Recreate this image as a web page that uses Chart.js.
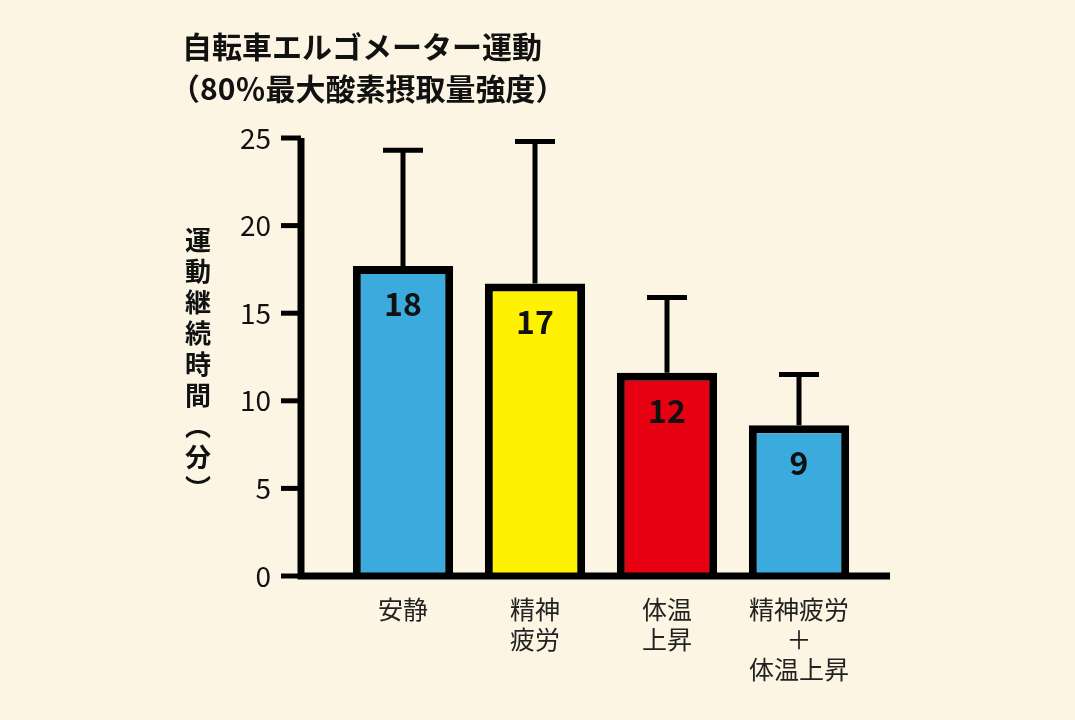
<!DOCTYPE html>
<html>
<head>
<meta charset="utf-8">
<script src="https://cdn.jsdelivr.net/npm/chart.js@4/dist/chart.umd.min.js"></script>
<style>
  html, body { margin: 0; padding: 0; background: #fdf5e4; }
  #wrap { width: 1075px; height: 720px; }
</style>
</head>
<body>
<div id="wrap"><canvas id="c"></canvas></div>
<script>
// データ
const categories = [['安静'], ['精神', '疲労'], ['体温', '上昇'], ['精神疲労', '＋', '体温上昇']];
const means = [17.7, 16.7, 11.6, 8.6];
const errorTops = [24.3, 24.8, 15.9, 11.5];
const valueLabels = ['18', '17', '12', '9'];
const barColors = ['#3aabdc', '#fff100', '#e60012', '#3aabdc'];
const yTicks = [0, 5, 10, 15, 20, 25];

const FONT = '"Noto Sans CJK JP", "Noto Sans", sans-serif';

// 軸・誤差棒・数値・タイトル
const decor = {
  id: 'decor',
  beforeDatasetsDraw(chart) {
    const ctx = chart.ctx, y = chart.scales.y, x = chart.scales.x;
    ctx.save();
    ctx.strokeStyle = '#000';
    errorTops.forEach((v, i) => {
      const cx = x.getPixelForValue(i);
      const top = y.getPixelForValue(v);
      ctx.lineWidth = 5;
      ctx.beginPath();
      ctx.moveTo(cx, y.getPixelForValue(means[i]));
      ctx.lineTo(cx, top);
      ctx.moveTo(cx - 20, top);
      ctx.lineTo(cx + 20, top);
      ctx.stroke();
    });
    ctx.restore();
  },
  afterDatasetsDraw(chart) {
    const ctx = chart.ctx, y = chart.scales.y, x = chart.scales.x;
    const y0 = y.getPixelForValue(0);
    ctx.save();
    ctx.strokeStyle = '#000';
    ctx.lineWidth = 7;
    ctx.beginPath();
    ctx.moveTo(301, y.getPixelForValue(25));
    ctx.lineTo(301, y0);
    ctx.lineTo(890, y0);
    ctx.stroke();
    ctx.lineWidth = 5;
    yTicks.forEach(t => {
      const py = y.getPixelForValue(t);
      ctx.beginPath();
      ctx.moveTo(281, py);
      ctx.lineTo(301, py);
      ctx.stroke();
    });
    ctx.fillStyle = '#111';
    ctx.font = '28px ' + FONT;
    ctx.textAlign = 'right';
    ctx.textBaseline = 'middle';
    yTicks.forEach(t => ctx.fillText(String(t), 271, y.getPixelForValue(t)));
    // 数値
    ctx.font = 'bold 32px ' + FONT;
    ctx.textAlign = 'center';
    valueLabels.forEach((s, i) => {
      ctx.fillText(s, x.getPixelForValue(i), y.getPixelForValue(means[i]) + 38);
    });
    // タイトル
    ctx.textAlign = 'left';
    ctx.textBaseline = 'alphabetic';
    ctx.font = 'bold 30px ' + FONT;
    ctx.fillText('自転車エルゴメーター運動', 182, 58);
    ctx.fillText('（80％最大酸素摂取量強度）', 170, 100);
    // 縦軸タイトル
    ctx.font = 'bold 26px ' + FONT;
    ctx.textAlign = 'center';
    ctx.textBaseline = 'middle';
    const chars = ['運', '動', '継', '続', '時', '間', '︵', '分', '︶'];
    chars.forEach((ch, i) => ctx.fillText(ch, 198, 240 + i * 31));
    ctx.restore();
  }
};

new Chart(document.getElementById('c'), {
  type: 'bar',
  data: {
    labels: categories,
    datasets: [{
      data: means,
      backgroundColor: barColors,
      borderColor: '#000',
      borderWidth: 8,
      borderSkipped: 'bottom',
      barPercentage: 0.76,
      categoryPercentage: 1
    }]
  },
  options: {
    responsive: true,
    maintainAspectRatio: false,
    animation: false,
    layout: { padding: { left: 337, right: 210, top: 138, bottom: 26 } },
    plugins: { legend: { display: false }, tooltip: { enabled: false } },
    scales: {
      x: {
        grid: { display: false },
        border: { display: false },
        ticks: { color: '#222', font: { size: 25, family: FONT }, padding: 10, maxRotation: 0 }
      },
      y: {
        display: true,
        min: 0, max: 25,
        grid: { display: false },
        border: { display: false },
        ticks: { display: false },
        afterFit(s) { s.width = 0; }
      }
    }
  },
  plugins: [decor]
});
</script>
</body>
</html>
